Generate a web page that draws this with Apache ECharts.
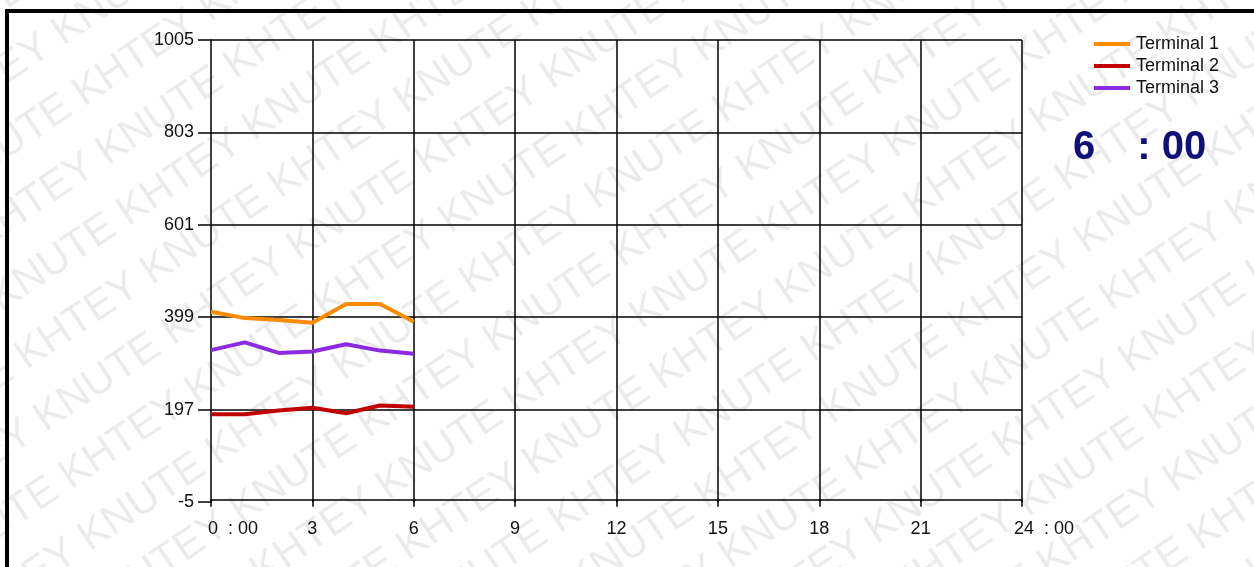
<!DOCTYPE html>
<html>
<head>
<meta charset="utf-8">
<title>Terminals</title>
<script src="https://cdn.jsdelivr.net/npm/echarts@6/dist/echarts.min.js"></script>
<style>
	html, body { margin: 0; padding: 0; background: #fff; }
	#main { width: 1254px; height: 567px; }
</style>
</head>
<body>
<div id="main"></div>
<script>
// hourly readings, 0:00 .. 6:00
var hours = [0, 1, 2, 3, 4, 5, 6];
var terminal1 = [411, 397, 393, 387, 428, 428, 389];
var terminal2 = [187, 187, 195, 201, 189, 206, 203];
var terminal3 = [327, 344, 321, 324, 340, 326, 319];
var seriesNames = ['Terminal 1', 'Terminal 2', 'Terminal 3'];

// axis ticks
var yMin = -5, yMax = 1005, yStep = 202;
var xMin = 0, xMax = 24, xStep = 3;
var clockHour = '6', clockMin = '00';

var pageModule = function () {

	var toPairs = function (vals) {
		var arr = [];
		for (var i = 0; i < vals.length; i++) {
			arr.push([hours[i], vals[i]]);
		}
		return arr;
	};

	//background watermark, rows laid along a 34deg diagonal
	var buildWatermark = function () {
		var items = [];
		var word = '';
		for (var r = 0; r < 9; r++) word += 'KNUTE KHTEY ';
		var ang = 34 * Math.PI / 180;
		var ux = Math.cos(ang), uy = -Math.sin(ang);
		var nx = Math.sin(ang), ny = Math.cos(ang);
		for (var k = -1; k < 21; k++) {
			var s = -420 - (k * 165) % 300;
			var d = k * 62;
			items.push({
				type: 'text',
				silent: true,
				z: -10,
				x: d * nx + s * ux,
				y: d * ny + s * uy,
				rotation: ang,
				style: {
					text: word,
					fill: 'rgba(0,0,0,0.08)',
					font: '42px "Liberation Sans", Arial, sans-serif',
					textVerticalAlign: 'middle'
				}
			});
		}
		return items;
	};

	var initChart = function () {
		var chart = echarts.init(document.getElementById('main'), null, {renderer: 'canvas'});
		var font = '"Liberation Sans", Arial, sans-serif';
		var lineCol = '#000';

		var graphic = buildWatermark();
		//outer frame
		graphic.push({
			type: 'rect',
			silent: true,
			z: 10,
			shape: {x: 7, y: 11, width: 1400, height: 700},
			style: {fill: null, stroke: '#000', lineWidth: 4}
		});
		//clock
		graphic.push({
			type: 'text',
			z: 10,
			left: 1073,
			top: 128,
			style: {
				text: '{h|' + clockHour + '}{s|}{h|: ' + clockMin + '}',
				rich: {
					h: {fontSize: 40, fontWeight: 'bold', fontFamily: font, fill: '#101078'},
					s: {width: 42}
				}
			}
		});

		chart.setOption({
			animation: false,
			backgroundColor: '#fff',
			color: ['#FF8C00', '#C00000', '#8A2BE2'],
			grid: {left: 211, right: 232, top: 40, bottom: 65, containLabel: false},
			legend: {
				orient: 'vertical',
				left: 1089,
				top: 30,
				itemWidth: 36,
				itemHeight: 4,
				itemGap: 4,
				icon: 'rect',
				data: seriesNames,
				textStyle: {color: '#111', fontSize: 18, fontFamily: font, padding: [0, 0, 0, 1]}
			},
			graphic: graphic,
			xAxis: {
				type: 'value',
				min: xMin,
				max: xMax,
				interval: xStep,
				axisLine: {lineStyle: {color: lineCol, width: 1.5}},
				axisTick: {show: true, length: 7, lineStyle: {color: lineCol, width: 1.5}},
				splitLine: {show: true, showMinLine: false, lineStyle: {color: lineCol, width: 1.5}},
				axisLabel: {
					margin: 18,
					color: '#111',
					fontSize: 18,
					fontFamily: font,
					formatter: function (v) {
						if (v === xMin || v === xMax) {
							return '{p|}' + v + '  : 00';
						}
						return '' + v;
					},
					rich: {p: {width: 44}}
				}
			},
			yAxis: {
				type: 'value',
				min: yMin,
				max: yMax,
				interval: yStep,
				axisLine: {show: true, lineStyle: {color: lineCol, width: 1.5}},
				axisTick: {show: true, length: 13, lineStyle: {color: lineCol, width: 1.5}},
				splitLine: {show: true, showMinLine: false, lineStyle: {color: lineCol, width: 1.5}},
				axisLabel: {
					margin: 17,
					color: '#111',
					fontSize: 18,
					fontFamily: font,
					formatter: function (v) { return '' + v; }
				}
			},
			series: [
				{name: seriesNames[0], type: 'line', symbol: 'none', lineStyle: {width: 4}, data: toPairs(terminal1)},
				{name: seriesNames[1], type: 'line', symbol: 'none', lineStyle: {width: 4}, data: toPairs(terminal2)},
				{name: seriesNames[2], type: 'line', symbol: 'none', lineStyle: {width: 4}, data: toPairs(terminal3)}
			]
		});
	};

	return {
		initControl: function () {
			initChart();
		}
	};
}();

pageModule.initControl();
</script>
</body>
</html>
